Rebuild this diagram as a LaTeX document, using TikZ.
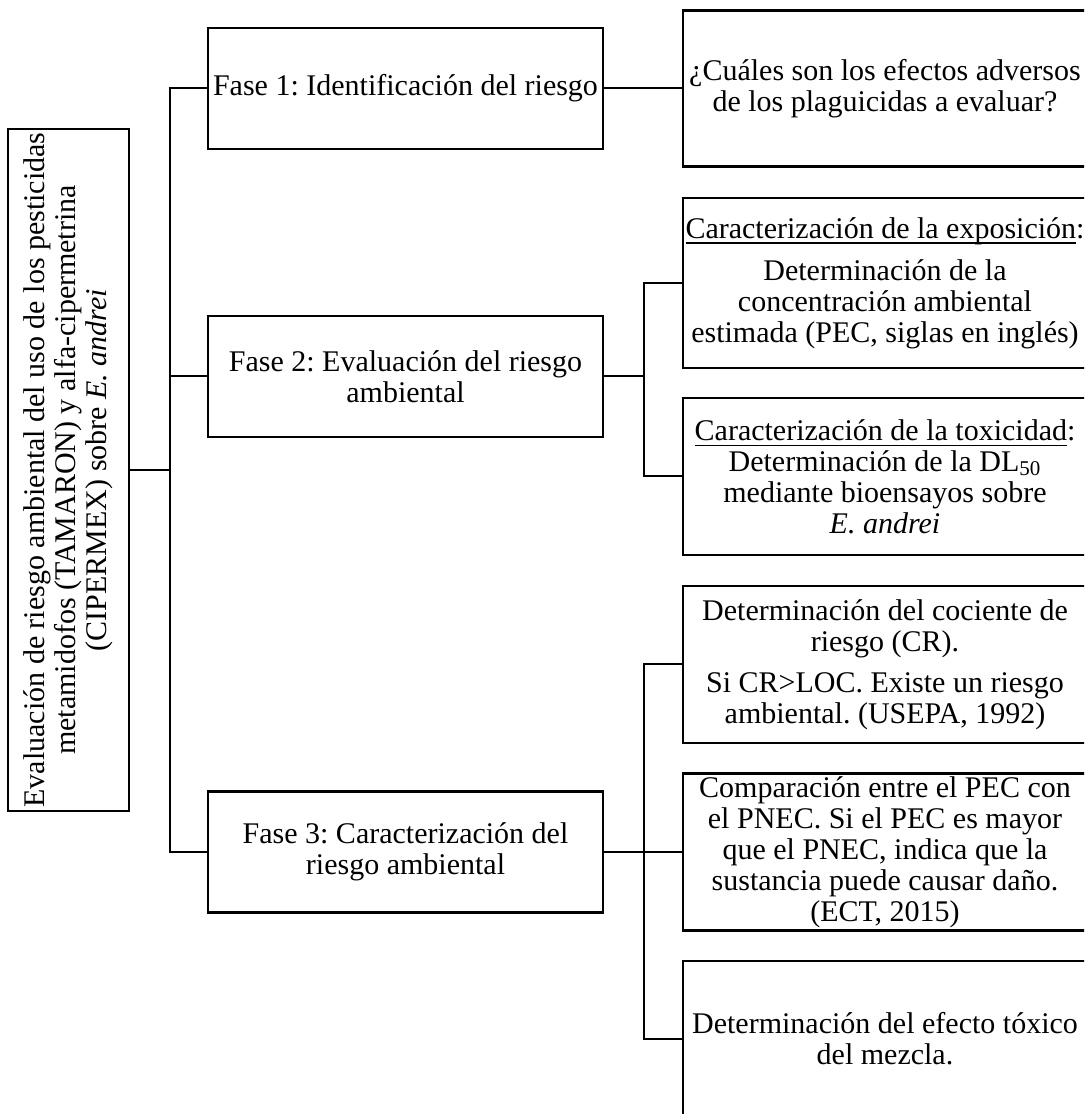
\documentclass[tikz,border=0pt]{standalone}
\usepackage{fontspec}
\setmainfont{Liberation Serif}
\usepackage{tikz}
\frenchspacing
\tikzset{rootnode/.style={draw=black, line width=1.2pt, rotate=90, align=center, inner sep=1pt, minimum width=341pt, minimum height=60.5pt},
phasenode/.style={draw=black, line width=1.2pt, align=center, inner sep=1pt, minimum width=197.5pt, minimum height=60.5pt},
detailnode/.style={draw=black, line width=1.2pt, align=center, inner sep=1pt, minimum width=202pt}}
\newcommand{\linedword}[1]{\setbox0=\hbox{#1}\rlap{\rule[-2.8pt]{\wd0}{0.65pt}}\box0}

\begin{document}
\begin{tikzpicture}[
                font=\fontsize{15pt}{15.5pt}\selectfont,
                branchline/.style={draw=black, line width=1pt}
            ]
                \useasboundingbox (0pt, 0pt) rectangle (542pt, 557pt);
                \clip (0pt, 0pt) rectangle (542pt, 557pt);

                % Boxes
                \node[rootnode] (raiz) at (34.25pt, 322pt) {Evaluación de riesgo ambiental del uso de los pesticidas\\metamidofos (TAMARON) y alfa-cipermetrina\\(CIPERMEX) sobre \textit{E. andrei}};

                \node[phasenode] (fase1) at (202.75pt, 512.75pt) {Fase 1: Identificación del riesgo};
                \node[phasenode] (fase2) at (202.75pt, 368.75pt) {Fase 2: Evaluación del riesgo\\ambiental};
                \node[phasenode] (fase3) at (202.75pt, 131pt) {Fase 3: Caracterización del\\riesgo ambiental};

                \node[detailnode, minimum height=78pt] (efectos) at (442.5pt, 512.75pt) {¿Cuáles son los efectos adversos\\de los plaguicidas a evaluar?};
                \node[detailnode, minimum height=85pt] (exposicion) at (442.5pt, 415.5pt) {\linedword{Caracterización de la exposición}:\\[5.5pt]Determinación de la\\concentración ambiental\\estimada (PEC, siglas en inglés)};
                \node[detailnode, minimum height=78.5pt] (toxicidad) at (442.5pt, 318.75pt) {\linedword{Caracterización de la toxicidad}:\\Determinación de la DL\textsubscript{50}\\mediante bioensayos sobre\\\textit{E. andrei}};
                \node[detailnode, minimum height=78.5pt] (cociente) at (442.5pt, 224.75pt) {Determinación del cociente de\\riesgo (CR).\\[5pt]Si CR>LOC. Existe un riesgo\\ambiental. (USEPA, 1992)};
                \node[detailnode, minimum height=78.5pt] (pnec) at (442.5pt, 131pt) {Comparación entre el PEC con\\el PNEC. Si el PEC es mayor\\que el PNEC, indica que la\\sustancia puede causar daño.\\(ECT, 2015)};
                \node[detailnode, minimum height=78pt] (mezcla) at (442.5pt, 37.5pt) {Determinación del efecto tóxico\\del mezcla.};

                % Connections
                \foreach \fase in {fase1, fase2, fase3} {
\draw[branchline] (raiz.south) -- ++(19.75pt, 0pt) |- (\fase.west);
}
                \draw[branchline] (fase1.east) -- (efectos.west);
                \foreach \detalle in {exposicion, toxicidad} {
\draw[branchline] (fase2.east) -- ++(20pt, 0pt) |- (\detalle.west);
}
                \foreach \detalle in {cociente, pnec, mezcla} {
\draw[branchline] (fase3.east) -- ++(20pt, 0pt) |- (\detalle.west);
}
            \end{tikzpicture}
\end{document}
